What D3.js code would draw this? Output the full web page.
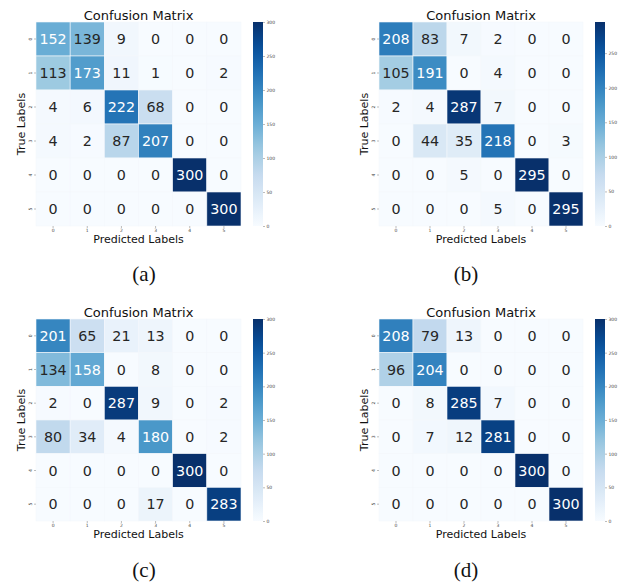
<!DOCTYPE html>
<html>
<head>
<meta charset="utf-8">
<script src="https://cdn.jsdelivr.net/npm/d3@7"></script>
<style>
  html, body { margin: 0; padding: 0; background: #fff; }
  svg { display: block; font-family: "DejaVu Sans", sans-serif; }
</style>
</head>
<body>
<div id="chart"></div>
<script>
// four confusion matrices, 6 classes each

const classLabels = ["0", "1", "2", "3", "4", "5"];

const matrixA = [
  [152, 139,   9,   0,   0,   0],
  [113, 173,  11,   1,   0,   2],
  [  4,   6, 222,  68,   0,   0],
  [  4,   2,  87, 207,   0,   0],
  [  0,   0,   0,   0, 300,   0],
  [  0,   0,   0,   0,   0, 300]
];
const matrixB = [
  [208,  83,   7,   2,   0,   0],
  [105, 191,   0,   4,   0,   0],
  [  2,   4, 287,   7,   0,   0],
  [  0,  44,  35, 218,   0,   3],
  [  0,   0,   5,   0, 295,   0],
  [  0,   0,   0,   5,   0, 295]
];
const matrixC = [
  [201,  65,  21,  13,   0,   0],
  [134, 158,   0,   8,   0,   0],
  [  2,   0, 287,   9,   0,   2],
  [ 80,  34,   4, 180,   0,   2],
  [  0,   0,   0,   0, 300,   0],
  [  0,   0,   0,  17,   0, 283]
];
const matrixD = [
  [208,  79,  13,   0,   0,   0],
  [ 96, 204,   0,   0,   0,   0],
  [  0,   8, 285,   7,   0,   0],
  [  0,   7,  12, 281,   0,   0],
  [  0,   0,   0,   0, 300,   0],
  [  0,   0,   0,   0,   0, 300]
];
const colorbarTicks = [0, 50, 100, 150, 200, 250, 300];
const panelCaptions = ["(a)", "(b)", "(c)", "(d)"];

// matplotlib "Blues"
const bluesStops = ["#f7fbff", "#deebf7", "#c6dbef", "#9ecae1", "#6baed6",
                    "#4292c6", "#2171b5", "#08519c", "#08306b"];
const blues = d3.piecewise(d3.interpolateRgb, bluesStops);

const W = 622, H = 582;
const svg = d3.select("#chart").append("svg")
  .attr("width", W).attr("height", H);

const panels = [
  { m: matrixA, x0: 36,  x1: 241, y0: 22,  y1: 226, cb: 253, capX: 144, capY: 281 },
  { m: matrixB, x0: 379, x1: 583, y0: 22,  y1: 226, cb: 595, capX: 466, capY: 281 },
  { m: matrixC, x0: 36,  x1: 241, y0: 319, y1: 521, cb: 253, capX: 144, capY: 577 },
  { m: matrixD, x0: 379, x1: 583, y0: 319, y1: 521, cb: 595, capX: 466, capY: 577 }
];

// seaborn picks annotation colour from cell luminance
function luminance(c) {
  const rgb = d3.rgb(c);
  const f = v => { v /= 255; return v <= 0.03928 ? v / 12.92 : Math.pow((v + 0.055) / 1.055, 2.4); };
  return 0.2126 * f(rgb.r) + 0.7152 * f(rgb.g) + 0.0722 * f(rgb.b);
}

panels.forEach((p, pi) => {
  const g = svg.append("g");
  const vmax = d3.max(p.m.flat());
  const color = v => blues(v / vmax);

  const x = d3.scaleBand().domain(classLabels).range([p.x0, p.x1]);
  const y = d3.scaleBand().domain(classLabels).range([p.y0, p.y1]);

  const cells = [];
  p.m.forEach((row, r) => row.forEach((v, c) => cells.push({ r, c, v })));

  g.selectAll("rect.cell")
    .data(cells)
    .enter().append("rect")
    .attr("class", "cell")
    .attr("x", d => x(classLabels[d.c]))
    .attr("y", d => y(classLabels[d.r]))
    .attr("width", x.bandwidth())
    .attr("height", y.bandwidth())
    .attr("fill", d => color(d.v))
    .attr("stroke", "#f3f7fc")
    .attr("stroke-width", 0.6);

  g.selectAll("text.val")
    .data(cells)
    .enter().append("text")
    .attr("class", "val")
    .attr("x", d => x(classLabels[d.c]) + x.bandwidth() / 2)
    .attr("y", d => y(classLabels[d.r]) + y.bandwidth() / 2)
    .attr("dy", "0.36em")
    .attr("text-anchor", "middle")
    .attr("font-size", "14.3px")
    .attr("fill", d => luminance(color(d.v)) > 0.408 ? "#262626" : "#ffffff")
    .text(d => d.v);

  // sumbu x
  const ax = g.append("g")
    .attr("transform", `translate(0,${p.y1})`)
    .call(d3.axisBottom(x).tickSize(2).tickPadding(1));
  ax.select(".domain").remove();
  ax.selectAll("line").attr("stroke", "#555").attr("stroke-width", 0.4);
  ax.selectAll("text").attr("font-size", "4.5px").attr("fill", "#444")
    .attr("font-family", "DejaVu Sans");

  // sumbu y (label diputar)
  const ay = g.append("g")
    .attr("transform", `translate(${p.x0},0)`)
    .call(d3.axisLeft(y).tickSize(2).tickPadding(1));
  ay.select(".domain").remove();
  ay.selectAll("line").attr("stroke", "#555").attr("stroke-width", 0.4);
  ay.selectAll("text")
    .attr("font-size", "4.5px").attr("fill", "#444")
    .attr("font-family", "DejaVu Sans")
    .attr("text-anchor", "middle")
    .attr("dy", null)
    .attr("x", null)
    .attr("transform", "translate(-4.5,0) rotate(-90)");

  // title + labels
  g.append("text")
    .attr("x", (p.x0 + p.x1) / 2)
    .attr("y", p.y0 - 2.5)
    .attr("text-anchor", "middle")
    .attr("font-size", "13px")
    .attr("fill", "#111")
    .text("Confusion Matrix");

  g.append("text")
    .attr("x", (p.x0 + p.x1) / 2)
    .attr("y", p.y1 + 17)
    .attr("text-anchor", "middle")
    .attr("font-size", "11px")
    .attr("fill", "#111")
    .text("Predicted Labels");

  g.append("text")
    .attr("transform", `translate(${p.x0 - 11.5},${(p.y0 + p.y1) / 2}) rotate(-90)`)
    .attr("text-anchor", "middle")
    .attr("font-size", "11px")
    .attr("fill", "#111")
    .text("True Labels");

  // colorbar
  const gradId = "grad" + pi;
  const grad = svg.append("defs").append("linearGradient")
    .attr("id", gradId)
    .attr("x1", 0).attr("y1", 1).attr("x2", 0).attr("y2", 0);
  d3.range(0, 1.0001, 0.05).forEach(t => {
    grad.append("stop").attr("offset", t).attr("stop-color", blues(t));
  });

  const cbScale = d3.scaleLinear().domain([0, vmax]).range([p.y1, p.y0]);
  g.append("rect")
    .attr("x", p.cb).attr("y", p.y0)
    .attr("width", 10).attr("height", p.y1 - p.y0)
    .attr("fill", `url(#${gradId})`);

  const ac = g.append("g")
    .attr("transform", `translate(${p.cb + 10},0)`)
    .call(d3.axisRight(cbScale)
      .tickValues(colorbarTicks.filter(t => t <= vmax))
      .tickSize(2).tickPadding(1.5));
  ac.select(".domain").remove();
  ac.selectAll("line").attr("stroke", "#555").attr("stroke-width", 0.4);
  ac.selectAll("text").attr("font-size", "4.5px").attr("fill", "#444")
    .attr("font-family", "DejaVu Sans");

  // caption
  svg.append("text")
    .attr("x", p.capX)
    .attr("y", p.capY)
    .attr("text-anchor", "middle")
    .attr("font-family", "'Liberation Serif', 'Times New Roman', serif")
    .attr("font-size", "21px")
    .attr("fill", "#111")
    .text(panelCaptions[pi]);
});
</script>
</body>
</html>
